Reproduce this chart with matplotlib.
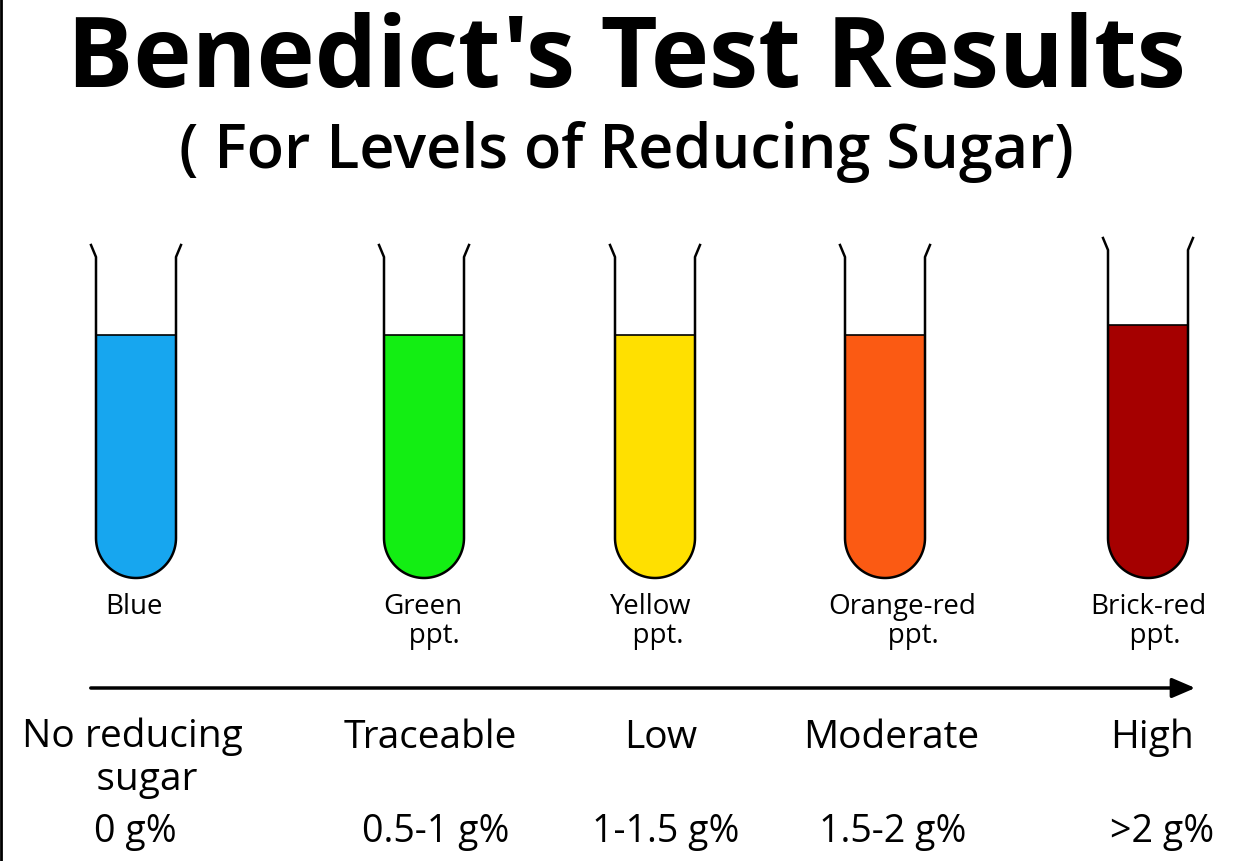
import matplotlib
matplotlib.use("Agg")
import matplotlib.pyplot as plt
from matplotlib.patches import Rectangle, Wedge, FancyArrowPatch
import numpy as np

title = "Benedict's Test Results"
subtitle = "( For Levels of Reducing Sugar)"
colour_names = ["Blue", "Green\n   ppt.", "Yellow\n  ppt.", "Orange-red\n   ppt.", "Brick-red\n  ppt."]
fill_colors = ["#17a6ef", "#13ee13", "#ffe000", "#fb5a13", "#a50000"]
levels = ["No reducing\n   sugar", "Traceable", "Low", "Moderate", "High"]
amounts = ["0 g%", "0.5-1 g%", "1-1.5 g%", "1.5-2 g%", ">2 g%"]
fill_top = [335, 335, 335, 335, 325]
tube_top = [245, 245, 245, 245, 238]

W, H = 1248, 861
fig = plt.figure(figsize=(W / 100, H / 100), dpi=100)
ax = fig.add_axes([0, 0, 1, 1])
ax.set_xlim(0, W); ax.set_ylim(H, 0); ax.axis("off")

centers = [136, 424, 655, 885, 1148]
label_x = [134, 423, 651, 902, 1148]
level_x = [132, 430, 661, 891, 1152]
amount_x = [135, 436, 666, 893, 1162]
hw = 40
bottom = 538
font = "Open Sans"

for i, cx in enumerate(centers):
    ax.add_patch(Rectangle((cx - hw, fill_top[i]), 2 * hw, bottom - fill_top[i], color=fill_colors[i], lw=0))
    ax.add_patch(Wedge((cx, bottom), hw, 0, 180, color=fill_colors[i], lw=0))
    ax.plot([cx - hw, cx + hw], [fill_top[i], fill_top[i]], color="black", lw=1.2)
    t = np.linspace(np.pi, 0, 60)
    xs = [cx - hw - 5, cx - hw, cx - hw] + list(cx + hw * np.cos(t)) + [cx + hw, cx + hw, cx + hw + 5]
    ys = [tube_top[i], tube_top[i] + 12, bottom] + list(bottom + hw * np.sin(t)) + [bottom, tube_top[i] + 12, tube_top[i]]
    ax.plot(xs, ys, color="black", lw=1.8)
    ax.text(label_x[i], 593, colour_names[i], ha="center", va="top", fontsize=20,
            family=font, linespacing=1.05)
    if i == 0:
        ax.text(level_x[i], 718, levels[i], ha="center", va="top", fontsize=28, family=font, linespacing=1.15)
    else:
        ax.text(level_x[i], 738, levels[i], ha="center", va="center", fontsize=28, family=font)
    ax.text(amount_x[i], 832, amounts[i], ha="center", va="center", fontsize=27, family=font)

ax.add_patch(FancyArrowPatch((88, 688), (1198, 688), arrowstyle="-|>,head_length=14,head_width=6",
                             color="black", lw=2.5, mutation_scale=1))
ax.text(626, 62, title, ha="center", va="center", fontsize=71, fontweight="bold", family=font)
ax.text(626, 152, subtitle, ha="center", va="center", fontsize=44, fontweight="semibold",
        family=font)
ax.plot([1, 1], [0, H], color="black", lw=2)
fig.savefig("out.png", dpi=100, facecolor="white")
